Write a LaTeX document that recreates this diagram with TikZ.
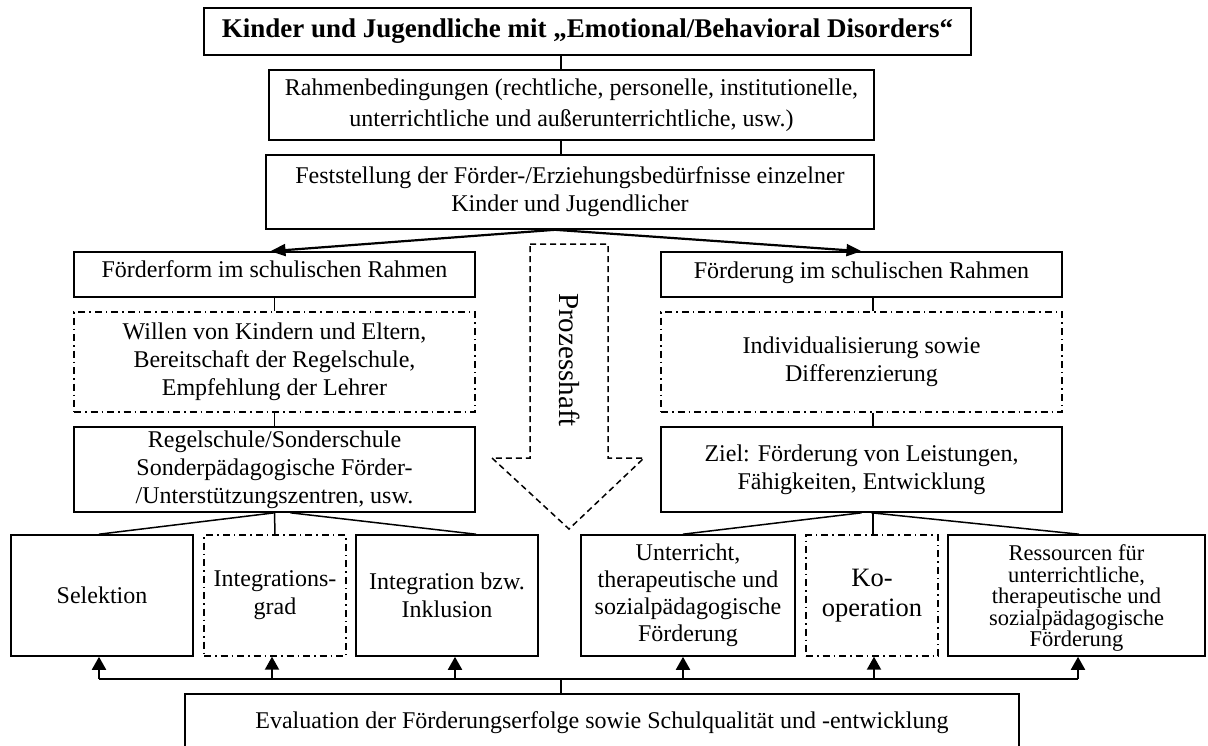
\documentclass[tikz,border=0pt]{standalone}
\usepackage{fontspec}
\setmainfont{Liberation Serif}
\usetikzlibrary{arrows.meta}
\begin{document}
\begin{tikzpicture}[x=1pt,y=-1pt,
  box/.style={draw, line width=1.6pt, inner sep=2pt, align=center, font=\fontsize{24}{28}\selectfont},
  dbox/.style={box, line width=1.4pt, dash pattern=on 7pt off 4pt on 1.5pt off 4pt},
  link/.style={line width=1.5pt},
  bus/.style={line width=2pt},
  bigarrow/.style={line width=2.2pt, -{Triangle[length=15pt,width=12pt]}},
  uparrow/.style={line width=2pt, -{Triangle[length=13pt,width=14pt]}},
  bigdash/.style={line width=1.5pt, dash pattern=on 6pt off 4pt},
]
\useasboundingbox (0,0) rectangle (1208,745);
\clip (0,0) rectangle (1208,745);

% top chain
\node[box, font=\bfseries\fontsize{27}{30}\selectfont, minimum width=767pt, minimum height=47pt] (title) at (587.5,31.5) {Kinder und Jugendliche mit „Emotional/Behavioral Disorders“};
\node[box, font=\fontsize{24}{31}\selectfont, minimum width=605pt, minimum height=70pt] (rahmen) at (571.5,105) {Rahmenbedingungen (rechtliche, personelle, institutionelle,\\ unterrichtliche und außerunterrichtliche, usw.)};
\node[box, minimum width=608pt, minimum height=74pt] (fest) at (570,192) {Feststellung der Förder-/Erziehungsbedürfnisse einzelner\\ Kinder und Jugendlicher};

% left column
\node[box, text depth=10pt, minimum width=401pt, minimum height=45pt] (lf1) at (274.5,274.5) {Förderform im schulischen Rahmen};
\node[dbox, minimum width=401pt, minimum height=100pt] (lf2) at (274.5,362) {Willen von Kindern und Eltern,\\ Bereitschaft der Regelschule,\\ Empfehlung der Lehrer};
\node[box, minimum width=401pt, minimum height=85pt] (lf3) at (274.5,469.5) {Regelschule/Sonderschule\\ Sonderpädagogische Förder-\\ /Unterstützungszentren, usw.};

% right column
\node[box, text depth=8pt, minimum width=401pt, minimum height=45pt] (rf1) at (861.5,274.5) {Förderung im schulischen Rahmen};
\node[dbox, minimum width=401pt, minimum height=100pt] (rf2) at (861.5,362) {Individualisierung sowie\\ Differenzierung};
\node[box, minimum width=401pt, minimum height=85pt] (rf3) at (861.5,469.5) {Ziel: Förderung von Leistungen,\\ Fähigkeiten, Entwicklung};

% bottom row
\node[box, minimum width=182pt, minimum height=121pt] (B1) at (102,595.5) {Selektion};
\node[dbox, minimum width=142pt, minimum height=121pt] (B2) at (275,595.5) {Integrations-\\grad};
\node[box, minimum width=182pt, minimum height=121pt] (B3) at (447,595.5) {Integration bzw.\\ Inklusion};
\node[box, font=\fontsize{24}{27}\selectfont, minimum width=214pt, minimum height=121pt] (B4) at (688,595.5) {Unterricht,\\ therapeutische und\\ sozialpädagogische\\ Förderung};
\node[dbox, font=\fontsize{26.5}{30}\selectfont, minimum width=132pt, minimum height=121pt] (B5) at (872,595.5) {Ko-\\operation};
\node[box, font=\fontsize{22.5}{21.5}\selectfont, minimum width=257pt, minimum height=121pt] (B6) at (1076.5,595.5) {\rule{0pt}{21pt}Ressourcen für\\ unterrichtliche,\\ therapeutische und\\ sozialpädagogische\\ Förderung};

% evaluation (bottom edge lies outside the picture)
\node[box, minimum width=834pt, minimum height=60pt] (eval) at (602,724) {\raisebox{8pt}{Evaluation der Förderungserfolge sowie Schulqualität und -entwicklung}};

% big dashed process arrow
\draw[bigdash] (530,244) -- (608,244) -- (608,458) -- (644,458) -- (569,529) -- (492,458) -- (530,458) -- cycle;
\node[font=\fontsize{29}{32}\selectfont, rotate=-90] (proz) at (570,360) {Prozesshaft};

% connectors
\coordinate (spine) at (561,0);
\coordinate (forkx) at (555,0);
\coordinate (rsp) at (873,0);
\draw[link] (title.south -| spine) -- (rahmen.north -| spine);
\draw[link] (rahmen.south -| spine) -- (fest.north -| spine);
\draw[bigarrow] (fest.south -| forkx) -- ([xshift=-4pt]lf1.north);
\draw[bigarrow] (fest.south -| forkx) -- (rf1.north);

\draw[link] (lf1.south) -- (lf2.north);
\draw[link] (lf2.south) -- (lf3.north);
\draw[link] (rf1.south -| rsp) -- (rf2.north -| rsp);
\draw[link] (rf2.south -| rsp) -- (rf3.north -| rsp);

\draw[link] (lf3.south) -- ([xshift=-3pt]B1.north);
\draw[link] (lf3.south) -- (B2.north);
\draw[link] ([xshift=16pt]lf3.south) -- ([xshift=29pt]B3.north);
\draw[link] (rf3.south) -- ([xshift=-5pt]B4.north);
\draw[link] (rf3.south -| rsp) -- (B5.north -| rsp);
\draw[link] ([xshift=10pt]rf3.south) -- ([xshift=2.5pt]B6.north);

% bottom bus
\coordinate (busL) at (99,679);
\coordinate (busR) at (1078,679);
\draw[bus] (busL) -- (busR);
\draw[bus] (eval.north -| spine) -- (busL -| spine);
\draw[uparrow] ([xshift=-3pt]B1.south |- busL) -- ([xshift=-3pt]B1.south);
\draw[uparrow] ([xshift=-3pt]B2.south |- busL) -- ([xshift=-3pt]B2.south);
\draw[uparrow] ([xshift=8pt]B3.south |- busL) -- ([xshift=8pt]B3.south);
\draw[uparrow] ([xshift=-5pt]B4.south |- busL) -- ([xshift=-5pt]B4.south);
\draw[uparrow] ([xshift=2pt]B5.south |- busL) -- ([xshift=2pt]B5.south);
\draw[uparrow] ([xshift=1.5pt]B6.south |- busL) -- ([xshift=1.5pt]B6.south);
\end{tikzpicture}
\end{document}
